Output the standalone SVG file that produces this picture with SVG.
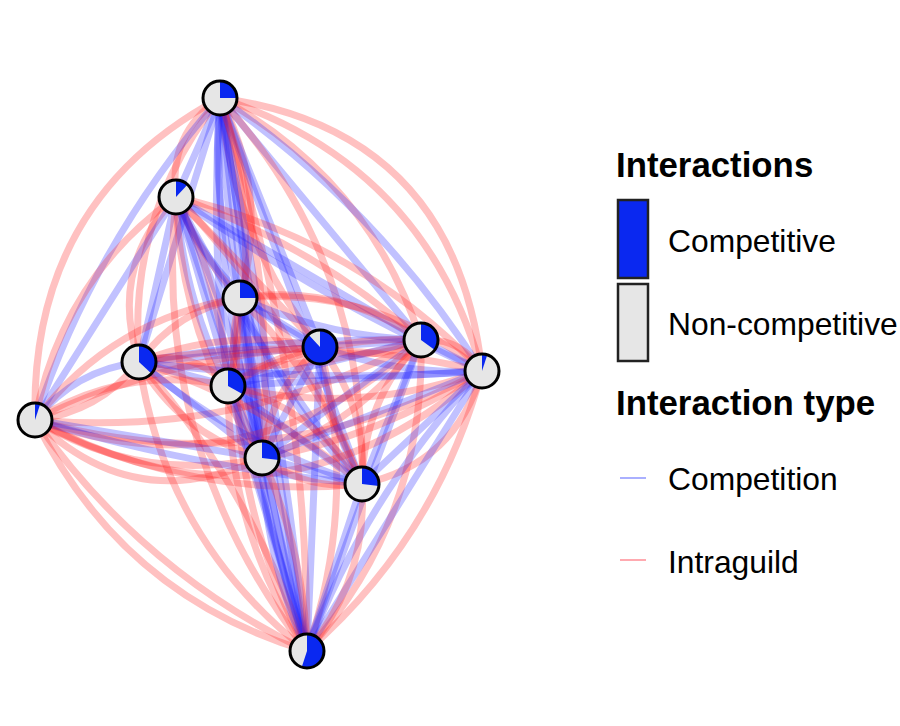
<svg xmlns="http://www.w3.org/2000/svg" width="900" height="726" viewBox="0 0 900 726">
<style>
.e path{fill:none;stroke-width:7;stroke-linecap:round}
.r{stroke:#ff2020;stroke-opacity:0.28}
.b{stroke:#2020ff;stroke-opacity:0.28}
.bg{fill:#e6e6e6;stroke:none}
.sl{fill:#0a28f0;stroke:none}
.rim{fill:none;stroke:#000;stroke-width:3}
.t{font-family:"Liberation Sans",Arial,sans-serif;fill:#000}
.h{font-size:34.8px;font-weight:bold}
.l{font-size:31.8px}
</style>
<rect width="900" height="726" fill="#fff"/>
<g id="edges" class="e">
<!-- A -->
<path class="b" d="M220,98 L176,197"/>
<path class="r" d="M220,98 Q168,134 176,197"/>
<path class="b" d="M220,98 Q210,200 240,298"/>
<path class="r" d="M220,98 Q270,194 240,298"/>
<path class="b" d="M220,98 L320,347"/>
<path class="r" d="M220,98 Q233,238 320,347"/>
<path class="b" d="M220,98 L421,340"/>
<path class="r" d="M220,98 Q369,179 421,340"/>
<path class="r" d="M220,98 Q425,165 482,371"/>
<path class="r" d="M220,98 Q455,130 482,371"/>
<path class="b" d="M220,98 Q378,208 482,371"/>
<path class="b" d="M220,98 L139,362"/>
<path class="r" d="M220,98 Q127,214 139,362"/>
<path class="b" d="M220,98 Q210,242 228,386"/>
<path class="r" d="M220,98 Q267,241 228,386"/>
<path class="r" d="M220,98 Q30,200 35,420"/>
<path class="b" d="M220,98 Q95,241 35,420"/>
<path class="b" d="M220,98 L262,458"/>
<path class="b" d="M220,98 Q212,281 262,458"/>
<path class="b" d="M220,98 Q250,270 262,458"/>
<path class="r" d="M220,98 Q277,274 262,458"/>
<path class="b" d="M220,98 L362,484"/>
<path class="r" d="M220,98 Q368,263 362,484"/>
<path class="b" d="M220,98 L307,651"/>
<path class="b" d="M220,98 Q236,379 307,651"/>
<path class="b" d="M220,98 Q275,370 307,651"/>
<path class="r" d="M220,98 Q308,368 307,651"/>
<!-- B -->
<path class="r" d="M176,197 Q198,254 240,298"/>
<path class="r" d="M176,197 L320,347"/>
<path class="b" d="M176,197 Q218,301 320,347"/>
<path class="r" d="M176,197 Q313,244 421,340"/>
<path class="b" d="M176,197 L421,340"/>
<path class="r" d="M176,197 Q355,238 482,371"/>
<path class="b" d="M176,197 Q320,299 482,371"/>
<path class="b" d="M176,197 L139,362"/>
<path class="r" d="M176,197 Q108,268 139,362"/>
<path class="b" d="M176,197 Q183,297 228,386"/>
<path class="r" d="M176,197 Q221,286 228,386"/>
<path class="b" d="M176,197 L35,420"/>
<path class="r" d="M176,197 Q61,280 35,420"/>
<path class="b" d="M176,197 L262,458"/>
<path class="b" d="M176,197 Q235,320 262,458"/>
<path class="r" d="M176,197 Q180,340 262,458"/>
<path class="r" d="M176,197 Q298,322 362,484"/>
<path class="b" d="M176,197 Q255,350 362,484"/>
<path class="r" d="M176,197 Q151,450 307,651"/>
<path class="b" d="M176,197 L307,651"/>
<!-- C -->
<path class="b" d="M240,298 L320,347"/>
<path class="b" d="M240,298 Q326,337 421,340"/>
<path class="r" d="M240,298 Q339,283 421,340"/>
<path class="r" d="M240,298 Q376,286 482,371"/>
<path class="r" d="M240,298 Q177,310 139,362"/>
<path class="b" d="M240,298 L228,386"/>
<path class="r" d="M240,298 Q113,318 35,420"/>
<path class="b" d="M240,298 L262,458"/>
<path class="r" d="M240,298 Q219,382 262,458"/>
<path class="r" d="M240,298 Q320,379 362,484"/>
<path class="b" d="M240,298 Q282,403 362,484"/>
<path class="b" d="M240,298 L307,651"/>
<path class="b" d="M240,298 Q250,480 307,651"/>
<path class="r" d="M240,298 Q220,485 307,651"/>
<!-- D -->
<path class="b" d="M320,347 L421,340"/>
<path class="r" d="M320,347 Q372,364 421,340"/>
<path class="b" d="M320,347 Q399,375 482,371"/>
<path class="b" d="M320,347 L139,362"/>
<path class="r" d="M320,347 Q227,327 139,362"/>
<path class="r" d="M320,347 Q270,357 228,386"/>
<path class="r" d="M320,347 Q170,355 35,420"/>
<path class="b" d="M320,347 L262,458"/>
<path class="r" d="M320,347 Q269,391 262,458"/>
<path class="r" d="M320,347 Q368,407 362,484"/>
<path class="b" d="M320,347 Q327,420 362,484"/>
<path class="b" d="M320,347 L307,651"/>
<path class="r" d="M320,347 Q359,501 307,651"/>
<!-- E -->
<path class="b" d="M421,340 L482,371"/>
<path class="r" d="M421,340 Q461,337 482,371"/>
<path class="b" d="M421,340 Q279,337 139,362"/>
<path class="r" d="M421,340 Q282,379 139,362"/>
<path class="b" d="M421,340 L228,386"/>
<path class="r" d="M421,340 Q318,334 228,386"/>
<path class="r" d="M421,340 Q240,438 35,420"/>
<path class="r" d="M421,340 Q252,496 35,420"/>
<path class="b" d="M421,340 L262,458"/>
<path class="r" d="M421,340 Q359,423 262,458"/>
<path class="b" d="M421,340 L362,484"/>
<path class="r" d="M421,340 Q363,400 362,484"/>
<path class="b" d="M421,340 L307,651"/>
<path class="r" d="M421,340 Q426,518 307,651"/>
<!-- F -->
<path class="r" d="M482,371 Q312,332 139,362"/>
<path class="b" d="M482,371 Q311,384 139,362"/>
<path class="r" d="M482,371 Q357,417 228,386"/>
<path class="b" d="M482,371 L228,386"/>
<path class="r" d="M482,371 Q268,485 35,420"/>
<path class="r" d="M482,371 Q276,552 35,420"/>
<path class="r" d="M482,371 Q381,437 262,458"/>
<path class="b" d="M482,371 L262,458"/>
<path class="b" d="M482,371 L362,484"/>
<path class="r" d="M482,371 Q456,464 362,484"/>
<path class="b" d="M482,371 L307,651"/>
<path class="r" d="M482,371 Q437,537 307,651"/>
<path class="b" d="M482,371 Q367,493 307,651"/>
<!-- G -->
<path class="b" d="M139,362 L228,386"/>
<path class="r" d="M139,362 Q191,347 228,386"/>
<path class="b" d="M139,362 Q75,370 35,420"/>
<path class="r" d="M139,362 Q99,412 35,420"/>
<path class="b" d="M139,362 L262,458"/>
<path class="r" d="M139,362 Q181,435 262,458"/>
<path class="b" d="M139,362 Q238,445 362,484"/>
<path class="r" d="M139,362 Q263,401 362,484"/>
<path class="r" d="M139,362 Q165,540 307,651"/>
<path class="r" d="M139,362 Q252,490 307,651"/>
<!-- H -->
<path class="r" d="M228,386 Q125,364 35,420"/>
<path class="b" d="M228,386 L262,458"/>
<path class="r" d="M228,386 Q315,408 362,484"/>
<path class="b" d="M228,386 L362,484"/>
<path class="b" d="M228,386 L307,651"/>
<path class="r" d="M228,386 Q228,530 307,651"/>
<!-- I -->
<path class="b" d="M35,420 L262,458"/>
<path class="r" d="M35,420 Q141,484 262,458"/>
<path class="r" d="M35,420 Q135,518 262,458"/>
<path class="r" d="M35,420 Q189,501 362,484"/>
<path class="b" d="M35,420 Q196,468 362,484"/>
<path class="r" d="M35,420 Q140,570 307,651"/>
<path class="r" d="M35,420 Q122,596 307,651"/>
<!-- J -->
<path class="b" d="M262,458 L362,484"/>
<path class="r" d="M262,458 Q307,491 362,484"/>
<path class="b" d="M262,458 L307,651"/>
<path class="b" d="M262,458 Q265,559 307,651"/>
<path class="r" d="M262,458 Q304,550 307,651"/>
<!-- K -->
<path class="b" d="M362,484 L307,651"/>
<path class="r" d="M362,484 Q368,579 307,651"/>
</g>
<g id="nA"><circle class="bg" cx="220" cy="98" r="17"/><path class="sl" d="M220,98 L220,81 A17,17 0 0 1 237,98 Z"/><circle class="rim" cx="220" cy="98" r="17"/></g>
<g id="nB"><circle class="bg" cx="176" cy="197" r="17"/><path class="sl" d="M176,197 L176,180 A17,17 0 0 1 187.6,184.6 Z"/><circle class="rim" cx="176" cy="197" r="17"/></g>
<g id="nC"><circle class="bg" cx="240" cy="298" r="17"/><path class="sl" d="M240,298 L240,281 A17,17 0 0 1 257,298 Z"/><circle class="rim" cx="240" cy="298" r="17"/></g>
<g id="nD"><circle class="bg" cx="320" cy="347" r="17"/><path class="sl" d="M320,347 L320,330 A17,17 0 1 1 308.4,334.6 Z"/><circle class="rim" cx="320" cy="347" r="17"/></g>
<g id="nE"><circle class="bg" cx="421" cy="340" r="17"/><path class="sl" d="M421,340 L421,323 A17,17 0 0 1 434.8,350 Z"/><circle class="rim" cx="421" cy="340" r="17"/></g>
<g id="nF"><circle class="bg" cx="482" cy="371" r="17"/><path class="sl" d="M482,371 L482,354 A17,17 0 0 1 487.3,354.8 Z"/><circle class="rim" cx="482" cy="371" r="17"/></g>
<g id="nG"><circle class="bg" cx="139" cy="362" r="17"/><path class="sl" d="M139,362 L139,345 A17,17 0 0 1 151.4,373.6 Z"/><circle class="rim" cx="139" cy="362" r="17"/></g>
<g id="nH"><circle class="bg" cx="228" cy="386" r="17"/><path class="sl" d="M228,386 L228,369 A17,17 0 0 1 242.9,394.2 Z"/><circle class="rim" cx="228" cy="386" r="17"/></g>
<g id="nI"><circle class="bg" cx="35" cy="420" r="17"/><path class="sl" d="M35,420 L35,403 A17,17 0 0 1 40.3,403.8 Z"/><circle class="rim" cx="35" cy="420" r="17"/></g>
<g id="nJ"><circle class="bg" cx="262" cy="458" r="17"/><path class="sl" d="M262,458 L262,441 A17,17 0 0 1 278.9,460.1 Z"/><circle class="rim" cx="262" cy="458" r="17"/></g>
<g id="nK"><circle class="bg" cx="362" cy="484" r="17"/><path class="sl" d="M362,484 L362,467 A17,17 0 0 1 378.9,486.1 Z"/><circle class="rim" cx="362" cy="484" r="17"/></g>
<g id="nL"><circle class="bg" cx="307" cy="651" r="17"/><path class="sl" d="M307,651 L307,634 A17,17 0 1 1 301.7,667.2 Z"/><circle class="rim" cx="307" cy="651" r="17"/></g>
<g id="legend">
<text class="t h" x="616" y="177">Interactions</text>
<rect x="618" y="200" width="30" height="78" fill="#0a28f0" stroke="#222" stroke-width="2.5"/>
<rect x="618" y="284" width="30" height="77" fill="#e6e6e6" stroke="#222" stroke-width="2.5"/>
<text class="t l" x="668" y="252">Competitive</text>
<text class="t l" x="668" y="335">Non-competitive</text>
<text class="t h" x="616" y="415">Interaction type</text>
<line x1="620" y1="478" x2="646" y2="478" stroke="#aab0ff" stroke-width="2"/>
<text class="t l" x="668" y="490">Competition</text>
<line x1="620" y1="560" x2="646" y2="560" stroke="#ffaab0" stroke-width="2"/>
<text class="t l" x="668" y="573">Intraguild</text>
</g>
</svg>
